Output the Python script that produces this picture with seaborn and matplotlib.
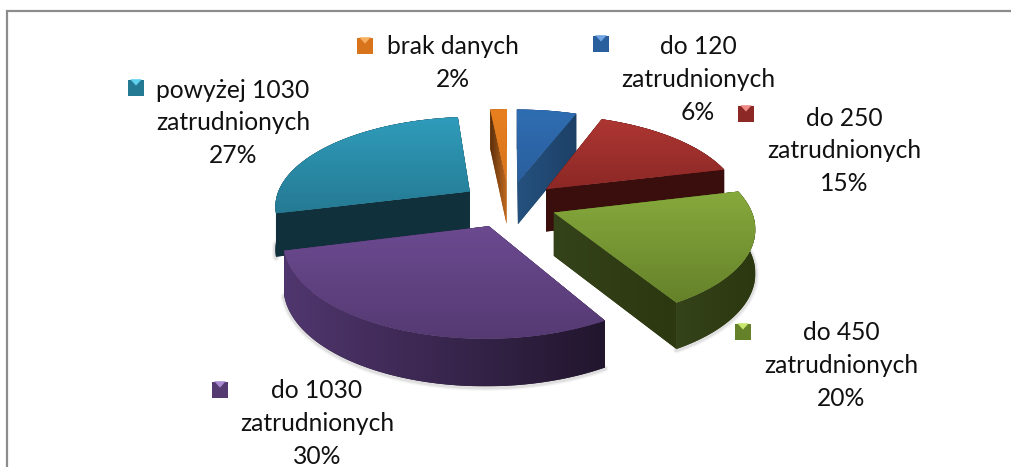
import numpy as np
import matplotlib
matplotlib.use("Agg")
import matplotlib.pyplot as plt
import seaborn as sns
from matplotlib.colors import to_rgb
from matplotlib.patches import Polygon
from matplotlib.transforms import Transform

# --- data
categories = ["do 120", "do 250", "do 450", "do 1030", "powyżej 1030", "brak danych"]
shares = [5.8, 15.4, 20.3, 29.6, 27.4, 1.6]
second_line = ["zatrudnionych", "zatrudnionych", "zatrudnionych", "zatrudnionych", "zatrudnionych", ""]

# --- styles (one entry per category)
top_light = ["#2f6db2", "#ad3632", "#86a93c", "#6b4a90", "#2f9cbb", "#e8801f"]
top_dark = ["#2a5f9e", "#8c2826", "#65822a", "#553a72", "#257a93", "#d8741c"]
wall_left = ["#25517f", "#3a0f0c", "#35431a", "#50366e", "#10303c", "#5a2d0c"]
wall_right = ["#1d4066", "#3a0e0c", "#2c380f", "#22162e", "#11313d", "#c26b1e"]
key_tip = ["#6fa3e0", "#f08a86", "#c6e66e", "#a98ad0", "#5fd0ee", "#f8b060"]
draw_order = [5, 0, 1, 4, 2, 3]
explode = [0.26, 0.26, 0.245, 0.26, 0.25, 0.26]

# --- layout in pixels: marker x, y, text x, first-line y
label_layout = [
    (601, 44, 698, 47), (746, 114, 844, 118), (743, 332, 841, 333),
    (220, 390, 317, 391), (136, 88, 233, 90), (365, 46, 453, 47),
]
LINE = 32.7
CX, CY, AX_, BY, K = 509, 204, 195.5, 89, 0.146
DEPTH = 43

sns.set_theme(style="white")
plt.rcParams["font.family"] = ["Lato", "DejaVu Sans"]

fig = plt.figure(figsize=(10.12, 4.67), dpi=100, facecolor="white")
ax = fig.add_axes([0, 0, 1, 1])

wedges, _ = ax.pie(shares, explode=explode, startangle=90, counterclock=False, radius=1)
ax.set_aspect("auto")
ax.set_xlim(0, 1012)
ax.set_ylim(467, 0)
ax.set_autoscale_on(False)
ax.axis("off")


def project(x, y, z=0.0):
    x, y = np.asarray(x, float), np.asarray(y, float)
    s = 1 / (1 + K * y)
    return CX + AX_ * x * s, CY - BY * y * s + z * np.sqrt(s)


class Perspective(Transform):
    input_dims = output_dims = 2
    has_inverse = False
    is_separable = False

    def transform_non_affine(self, values):
        px, py = project(values[:, 0], values[:, 1])
        return np.column_stack([px, py])


persp = Perspective()


def gradient(clip, bounds, c0, c1, vertical, z):
    x0, y0, x1, y1 = bounds
    t = np.linspace(0, 1, 64)[:, None]
    rgb = (1 - t) * np.array(to_rgb(c0)) + t * np.array(to_rgb(c1))
    img = rgb[:, None, :] if vertical else rgb[None, :, :]
    im = ax.imshow(img, extent=(x0, x1, y1, y0), origin="upper", aspect="auto",
                   interpolation="bilinear", zorder=z)
    im.set_clip_path(clip)


z = 2.0
for i in draw_order:
    w = wedges[i]
    (ox, oy), th1, th2 = w.center, w.theta1, w.theta2
    ang = np.radians(np.linspace(th1, th2, 80))
    rx, ry = ox + np.cos(ang), oy + np.sin(ang)
    # soft shadow below the front of the rim
    front = ry < 0.05
    if front.any():
        sx, sy = project(rx[front], ry[front], DEPTH)
        for lw, a in ((5, 0.07), (3, 0.12)):
            ax.plot(sx, sy + 1, color="#555555", lw=lw, alpha=a, zorder=z, solid_capstyle="round")
        z += 0.01
    walls = [
        (np.array([ox, rx[0]]), np.array([oy, ry[0]])),
        (np.array([ox, rx[-1]]), np.array([oy, ry[-1]])),
        (rx, ry),
    ]
    walls.sort(key=lambda p: -np.mean(p[1]))
    for wx, wy in walls:
        tx, ty = project(wx, wy)
        bx, by = project(wx, wy, DEPTH)
        pts = np.column_stack([np.r_[tx, bx[::-1]], np.r_[ty, by[::-1]]])
        poly = Polygon(pts, closed=True, facecolor=wall_right[i], edgecolor="none", zorder=z)
        ax.add_patch(poly)
        z += 0.01
        gradient(poly, (pts[:, 0].min(), pts[:, 1].min(), pts[:, 0].max(), pts[:, 1].max()),
                 wall_left[i], wall_right[i], False, z)
        z += 0.01
    # top face: the pie wedge itself, seen through the perspective transform
    w.set_transform(persp + ax.transData)
    w.set_facecolor(top_dark[i])
    w.set_edgecolor("none")
    w.set_zorder(z)
    z += 0.01
    tx, ty = project(rx, ry)
    ax_, ay_ = project(ox, oy)
    b = (min(tx.min(), ax_), min(ty.min(), ay_), max(tx.max(), ax_), max(ty.max(), ay_))
    gradient(w, b, top_light[i], top_dark[i], True, z)
    z += 0.01

# frame of the chart area
ax.plot([7, 7, 1012], [467, 11, 11], color="#8c8c8c", lw=1.6, zorder=1, solid_joinstyle="miter")

# labels with bevelled legend keys
key_tip_shape = [(-1, 1), (1, 1), (0, -0.1)]
for i, (mx, my, tx, ty) in enumerate(label_layout):
    ax.scatter([mx], [my], marker="s", s=135, color=top_dark[i], edgecolors="none", zorder=20)
    ax.scatter([mx], [my - 3], marker=key_tip_shape, s=70, color=key_tip[i], edgecolors="none", zorder=21)
    lines = [categories[i]] + ([second_line[i]] if second_line[i] else []) + [f"{round(shares[i])}%"]
    for k, s in enumerate(lines):
        ax.text(tx, ty + k * LINE, s, ha="center", va="center", fontsize=17.7, color="#111111", zorder=22)

fig.savefig("out.png", dpi=100)
